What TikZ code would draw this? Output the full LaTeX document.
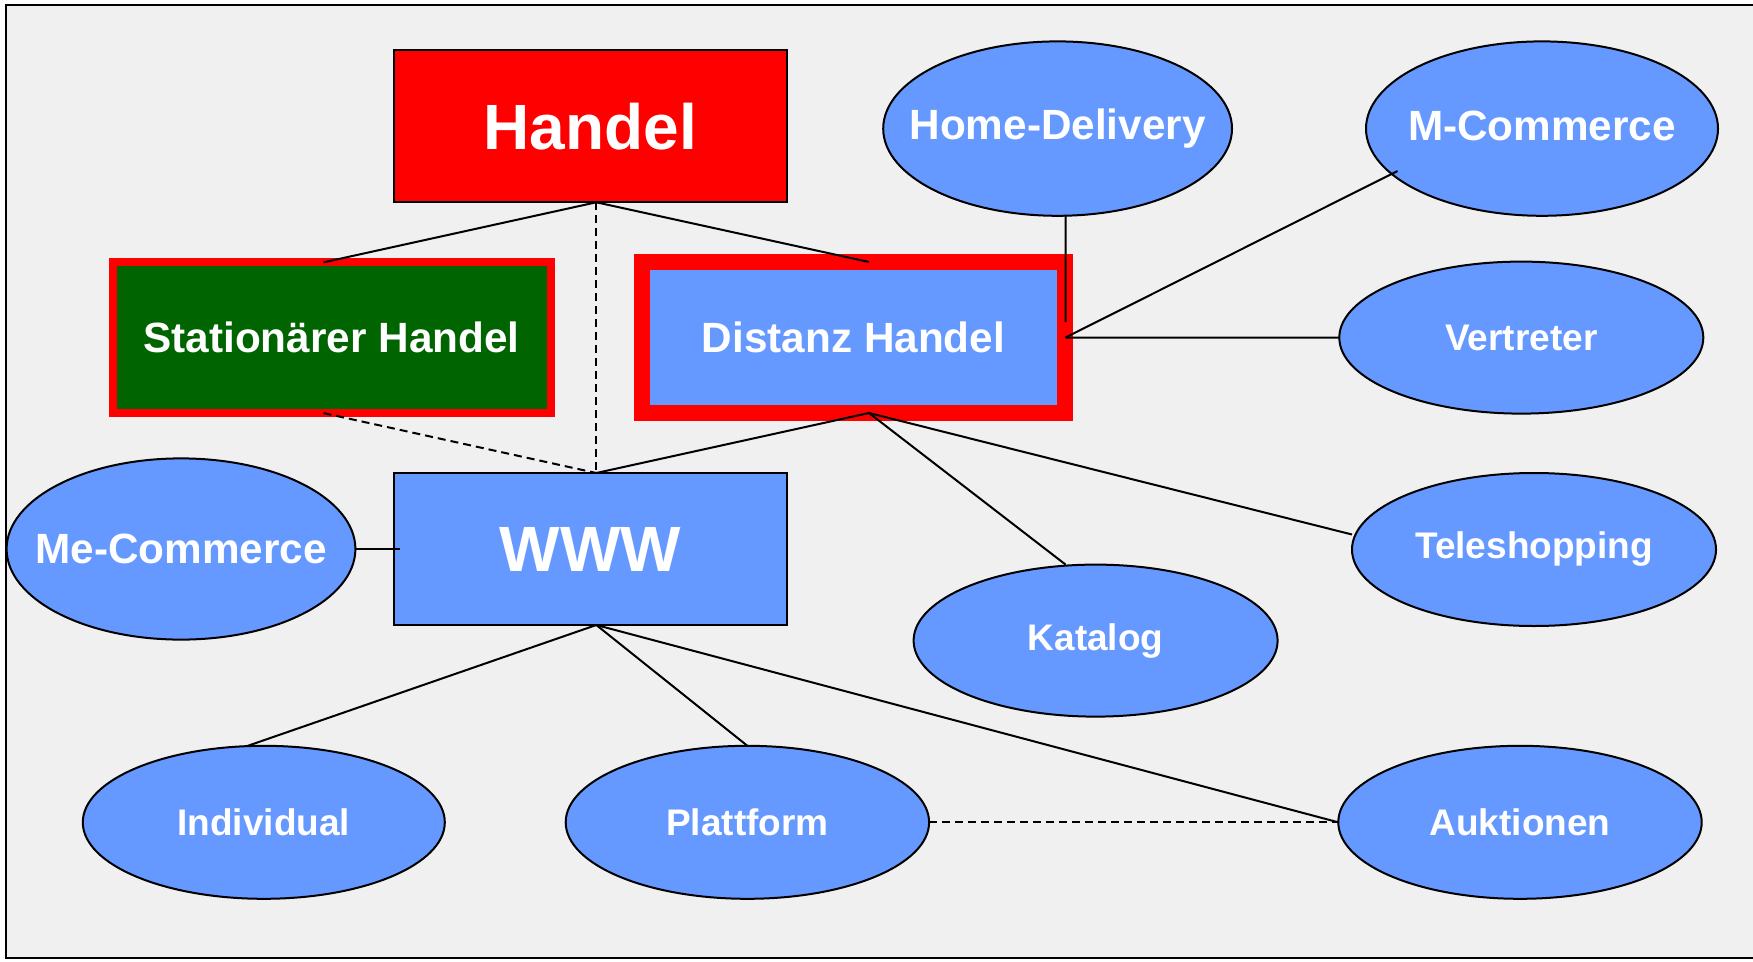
\documentclass[tikz,border=0pt]{standalone}
\usepackage{fontspec}
\setmainfont{Liberation Sans}
\usetikzlibrary{shapes.geometric,calc}
\definecolor{bgray}{RGB}{240,240,240}
\definecolor{nodeblue}{RGB}{102,153,255}
\definecolor{darkgreen}{RGB}{0,100,0}
\newcommand{\lbl}[1]{\makebox[0pt]{#1}}
\tikzset{
  big/.style={font=\fontsize{64}{70}\selectfont\bfseries, text=white},
  mid/.style={font=\fontsize{42.3}{48}\selectfont\bfseries, text=white},
  small/.style={font=\fontsize{37}{42}\selectfont\bfseries, text=white},
  box/.style={rectangle, draw=black, line width=2pt, inner sep=0pt, outer sep=0pt},
  framed/.style={rectangle, draw=red, inner sep=0pt, outer sep=0pt},
  oval/.style={ellipse, draw=black, fill=nodeblue, line width=2pt, inner sep=0pt, outer sep=0pt, small},
  link/.style={draw=black, line width=2pt},
  dlink/.style={draw=black, line width=2pt, dash pattern=on 8pt off 5pt},
}
\begin{document}
\begin{tikzpicture}[x=1pt,y=-1pt]
\useasboundingbox (0,0) rectangle (1753,961);
\fill[white] (0,0) rectangle (1753,961);
\fill[bgray] (6,5) rectangle (1753,958);
\draw[line width=2pt] (1753,5) -- (6,5) -- (6,958) -- (1753,958);

% rectangles
\node[box, fill=red, minimum width=393.6pt, minimum height=152pt, big] (handel) at (590.3,126.3) {Handel};
\node[framed, fill=darkgreen, line width=8pt, minimum width=438pt, minimum height=150.7pt, mid] (stat) at (331.5,337.7) {Stationärer Handel};
\node[framed, fill=nodeblue, line width=16pt, minimum width=423pt, minimum height=151pt, mid] (dist) at (853.5,337.5) {Distanz Handel};
\node[box, fill=nodeblue, minimum width=393.6pt, minimum height=152pt, big] (www) at (590.3,549) {WWW};

% ellipses
\node[oval, minimum width=348.8pt, minimum height=174.4pt, mid] (hd) at (1057.6,128.6) {\lbl{\raisebox{2pt}{Home-Delivery}}};
\node[oval, minimum width=352pt, minimum height=174.4pt, mid] (mc) at (1542,128.6) {\lbl{\raisebox{6pt}{M-Commerce}}};
\node[oval, minimum width=364pt, minimum height=152pt] (vt) at (1521.3,337.6) {\lbl{Vertreter}};
\node[oval, minimum width=348.8pt, minimum height=181.2pt, mid] (mec) at (181,549) {\lbl{Me-Commerce}};
\node[oval, minimum width=364pt, minimum height=153pt] (ts) at (1534,549.5) {\lbl{Teleshopping}};
\node[oval, minimum width=364pt, minimum height=152pt] (kt) at (1095.6,640.6) {\lbl{Katalog}};
\node[oval, minimum width=362pt, minimum height=153pt] (ind) at (263.8,822.3) {\lbl{Individual}};
\node[oval, minimum width=363.4pt, minimum height=153pt] (pf) at (747.4,822.3) {\lbl{Plattform}};
\node[oval, minimum width=363.4pt, minimum height=153pt] (ak) at (1520,822.3) {\lbl{Auktionen}};

% connection points
\coordinate (hb) at ($(handel.south)+(6,0)$);
\coordinate (st) at ($(stat.north)+(-8,0)$);
\coordinate (sb) at ($(stat.south)+(-8,0)$);
\coordinate (dt) at ($(dist.north)+(15.5,0)$);
\coordinate (db) at ($(dist.south)+(15.5,0)$);
\coordinate (dr) at ($(dist.east)+(0.5,0)$);
\coordinate (drh) at ($(dist.east)+(0.5,-15.5)$);
\coordinate (wt) at ($(www.north)+(6,0)$);
\coordinate (wb) at ($(www.south)+(6,0)$);
\coordinate (wl) at ($(www.west)+(6,0)$);
\coordinate (hdb) at ($(hd.south)+(8,0)$);
\coordinate (mcl) at ($(mc.center)+(-144.5,42.4)$);
\coordinate (tsl) at ($(ts.west)+(0,-15)$);
\coordinate (ktt) at ($(kt.north)+(-30,0)$);
\coordinate (indt) at ($(ind.north)+(-16,0)$);

% solid connectors
\draw[link] (hb) -- (st);
\draw[link] (hb) -- (dt);
\draw[link] (hdb) -- (drh);
\draw[link] (mcl) -- (dr);
\draw[link] (vt.west) -- (dr);
\draw[link] (db) -- (wt);
\draw[link] (db) -- (ktt);
\draw[link] (db) -- (tsl);
\draw[link] (mec.east) -- (wl);
\draw[link] (wb) -- (indt);
\draw[link] (wb) -- (pf.north);
\draw[link] (wb) -- (ak.west);

% dashed connectors
\draw[dlink] (hb) -- (wt);
\draw[dlink] (sb) -- (wt);
\draw[dlink] (pf.east) -- (ak.west);
\end{tikzpicture}
\end{document}
